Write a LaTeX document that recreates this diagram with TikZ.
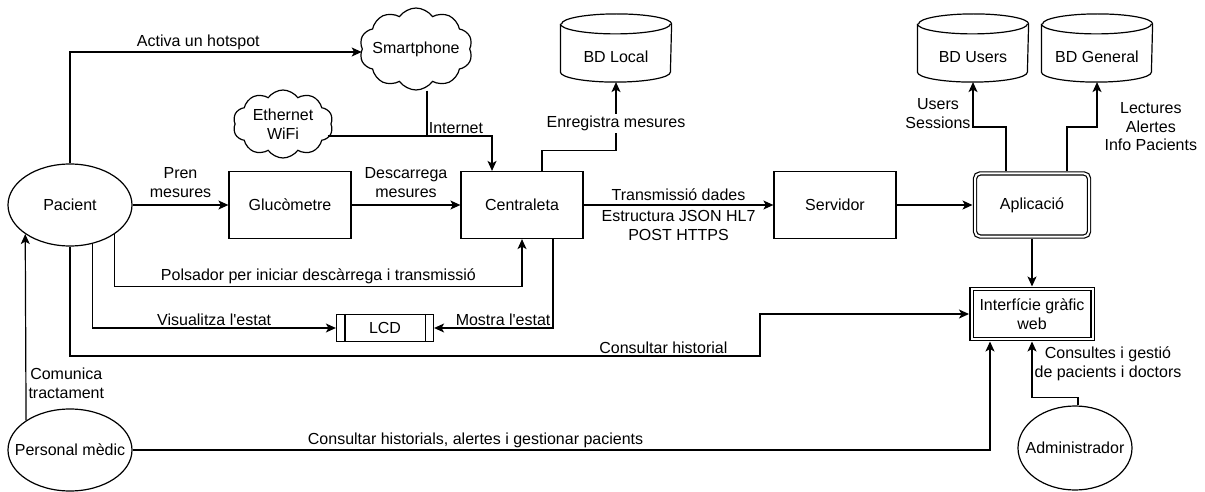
\documentclass[tikz,border=0pt]{standalone}
\usepackage{fontspec}
\setmainfont{Liberation Sans}
\usetikzlibrary{shapes.geometric,shapes.symbols,arrows.meta}

\begin{document}
\begin{tikzpicture}[x=1pt,y=-1pt,
every node/.style={font=\fontsize{16}{18.5}\selectfont},
>={Stealth[length=10pt,width=9pt,inset=2.5pt]},
main/.style={draw,ellipse,minimum width=124pt,minimum height=82pt},
box/.style={draw,rectangle,minimum width=122pt,minimum height=67pt},
dbl/.style={draw,rectangle,double,double distance=2pt,minimum width=114pt,minimum height=63pt,outer sep=2.5pt},
db/.style={rectangle,minimum width=110pt,minimum height=67pt,outer sep=0.6pt},
cloudy/.style={draw,cloud,cloud puffs=10,cloud puff arc=110,cloud ignores aspect},
lcd/.style={draw,rectangle,minimum width=97pt,minimum height=27pt},
tag/.style={align=center,inner sep=2pt}]
\useasboundingbox (0,0) rectangle (1205,492);

\node[main,line width = 1.2pt,label=center:Pacient] (1) at (70,205) {};
\node[box,line width = 1.2pt] (2) [right of=1,node distance=220pt] {Glucòmetre};
\node[box,line width = 1.2pt] (3) [right of=2,node distance=232pt] {Centraleta};
\node[box,line width = 1.2pt] (4) [right of=3,node distance=313pt] {Servidor};
\node[dbl,rounded corners=5pt,line width = 1.2pt] (5) [right of=4,node distance=197pt] {Aplicació};
\node[dbl,minimum width=121pt,minimum height=50pt,line width = 1.2pt,align=center] (6) [below of=5,node distance=109pt] {Interfície gràfic\\web};
\node[main,line width = 1.2pt,label=center:Personal mèdic] (7) [below of=1,node distance=245pt] {};
\node[main,minimum width=114pt,minimum height=84pt,line width = 1.2pt,label=center:Administrador] (8) at (1075,448) {};
\node[lcd,line width = 1.2pt] (9) at (385,328) {LCD};
\node[cloudy,minimum width=113pt,minimum height=82pt,line width = 1.2pt,label=center:Smartphone] (10) at (416,49) {};
\node[cloudy,minimum width=100pt,minimum height=68pt,line width = 1.2pt,label={[align=center]center:Ethernet\\WiFi}] (11) at (283,124) {};
\node[db,label={[yshift=-9pt]center:BD Local}] (12) at (616,48) {};
\node[db,label={[yshift=-9pt]center:BD Users}] (13) at (973,48) {};
\node[db,label={[yshift=-9pt]center:BD General}] (14) [right of=13,node distance=124pt] {};
\coordinate (jn) at (427,136);
\coordinate (hb) at (760,356);

% cylinders round the BD nodes
\foreach \n in {12,13,14} {
\draw[line width = 1.2pt] ([yshift=-10pt]\n.north west) -- ([yshift=10pt]\n.south west)
  arc[start angle=180,end angle=360,x radius=55pt,y radius=10pt]
  -- ([yshift=-10pt]\n.north east)
  arc[start angle=0,end angle=180,x radius=55pt,y radius=10pt];
\draw[line width = 1.2pt] ([yshift=-10pt]\n.north west)
  arc[start angle=180,end angle=360,x radius=55pt,y radius=10pt];
}

\draw[line width = 1.2pt] ([xshift=9pt]9.north west) -- ([xshift=9pt]9.south west);
\draw[line width = 1.2pt] ([xshift=-9pt]9.north east) -- ([xshift=-9pt]9.south east);

\draw[->,line width = 1.2pt] (1) -- (2) node[tag,midway,above,yshift=5pt] {Pren\\mesures};
\draw[->,line width = 1.2pt] (2) -- (3) node[tag,midway,above,yshift=5pt] {Descarrega\\mesures};
\draw[->,line width = 1.2pt] (3) -- (4) node[tag,midway,above,yshift=2pt] {Transmissió dades} node[tag,midway,below,yshift=-3pt] {Estructura JSON HL7\\POST HTTPS};
\draw[->,line width = 1.2pt] (4) -- (5);
\draw[->,line width = 1.2pt] (5) -- (6);
\draw[->,line width = 1.2pt] (1.north) |- ([yshift=-3pt]10.west) node[tag,pos=0.72,above] {Activa un hotspot};
\draw[line width = 1.2pt] (jn |- 10.south) -- (jn);
\draw[->,line width = 1.2pt] ([xshift=-4pt]11.east |- jn) -| ([xshift=-30pt]3.north) node[tag,pos=0.3,anchor=south west] {Internet};
\draw[->,line width = 1.2pt] ([xshift=20pt]3.north) -- ++(0,-20) -| (12.south) node[tag,pos=0.7,fill=white] {Enregistra mesures};
\draw[->,line width = 1.2pt] ([xshift=-26pt]5.north) -- ++(0,-44) -| (13.south) node[tag,pos=0.65,left] {Users\\Sessions};
\draw[->,line width = 1.2pt] ([xshift=35pt]5.north) -- ++(0,-44) -| (14.south) node[tag,pos=0.5,right,xshift=5pt] {Lectures\\Alertes\\Info Pacients};
\draw[->,line width = 1.2pt] (1.-33.3) -- ++(0,52.5) -| (3.south) node[tag,pos=0.25,above] {Polsador per iniciar descàrrega i transmissió};
\draw[->,line width = 1.2pt] (1.-60.1) |- (9.west) node[tag,pos=0.75,above] {Visualitza l\textquotesingle estat};
\draw[->,line width = 1.2pt] ([xshift=31pt]3.south) |- (9.east) node[tag,pos=0.5,anchor=south east] {Mostra l\textquotesingle estat};
\draw[->,line width = 1.2pt] (1.south) |- (hb) node[tag,pos=0.93,above] {Consultar historial} |- (6.west);
\draw[->,line width = 1.2pt] (7.146.7) -- (1.213.3) node[tag,pos=0.2,right] {Comunica\\tractament};
\draw[->,line width = 1.2pt] (7.east) -| ([xshift=-42pt]6.south) node[tag,pos=0.2,above] {Consultar historials, alertes i gestionar pacients};
\draw[->,line width = 1.2pt] ([xshift=3pt]8.north) -- ++(0,-8) -| (6.south) node[tag,pos=0.8,right] {Consultes i gestió\\de pacients i doctors};
\end{tikzpicture}
\end{document}
